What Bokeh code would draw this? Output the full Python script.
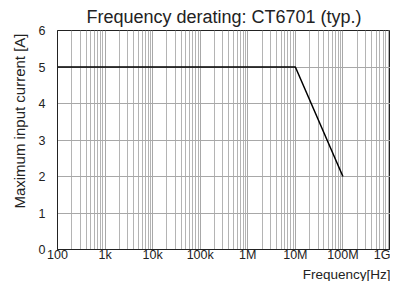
from bokeh.plotting import figure
from bokeh.models import FixedTicker, Range1d, Title
from bokeh.embed import file_html
from bokeh.resources import INLINE

freq_hz = [100, 1e7, 1e8]
current_a = [5, 5, 2]
x_ticks = [1e2, 1e3, 1e4, 1e5, 1e6, 1e7, 1e8, 1e9]
x_tick_labels = ["100", "1k", "10k", "100k", "1M", "10M", "100M", "1G"]
y_ticks = [0, 1, 2, 3, 4, 5, 6]

minor = [d * m for d in x_ticks[:-1] for m in range(2, 10)]

FONT = "Liberation Sans"
TXT = "#222222"

p = figure(width=390, height=281, x_axis_type="log", output_backend="svg",
           toolbar_location=None, x_range=Range1d(1e2, 1e9), y_range=Range1d(0, 6),
           min_border_left=48, min_border_right=0, min_border_top=24, min_border_bottom=0)

p.title.text = "Frequency derating: CT6701 (typ.)"
p.title.align = "center"
p.title.text_font = FONT
p.title.text_font_size = "18px"
p.title.text_font_style = "normal"
p.title.text_color = TXT
p.title.standoff = 8
p.title.offset = 0

p.xaxis.ticker = FixedTicker(ticks=x_ticks, minor_ticks=minor)
p.xaxis.major_label_overrides = {t: l for t, l in zip(x_ticks, x_tick_labels)}
p.yaxis.ticker = FixedTicker(ticks=y_ticks)

for ax in (p.xaxis, p.yaxis):
    ax.major_tick_line_color = None
    ax.minor_tick_line_color = None
    ax.major_tick_out = 0
    ax.minor_tick_out = 0
    ax.major_tick_in = 0
    ax.minor_tick_in = 0
    ax.axis_line_color = TXT
    ax.major_label_text_font = FONT
    ax.major_label_text_font_size = "12.5px"
    ax.major_label_text_color = TXT

p.yaxis.major_label_standoff = 12
p.xaxis.major_label_standoff = -2

p.add_layout(Title(text="Maximum input current [A]", align="right", offset=3,
                   standoff=16, text_font=FONT, text_font_size="15px",
                   text_font_style="normal", text_color=TXT), "left")
p.add_layout(Title(text="Frequency[Hz]", align="right", offset=0, standoff=0,
                   text_font=FONT, text_font_size="13.5px",
                   text_font_style="normal", text_color=TXT), "below")

p.xgrid.grid_line_color = "#a8a8a8"
p.xgrid.minor_grid_line_color = "#b4b4b4"
p.ygrid.grid_line_color = "#a8a8a8"
p.outline_line_color = TXT

p.line(freq_hz, current_a, line_color="black", line_width=1.5)

open("out.html", "w").write(file_html(p, INLINE))
